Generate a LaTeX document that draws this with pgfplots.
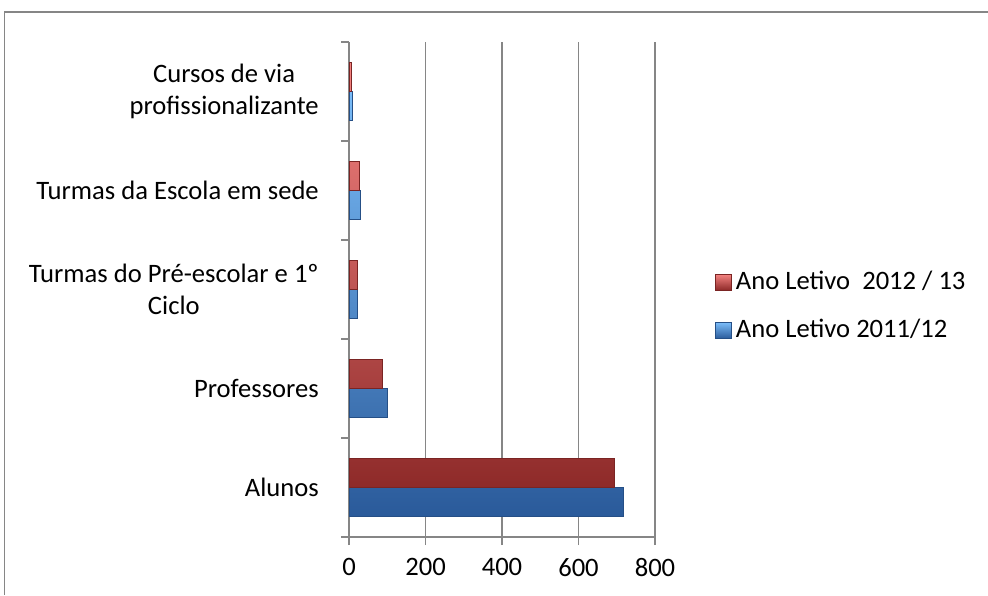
\documentclass[border=0pt]{standalone}
\usepackage{fontspec}
\setmainfont{Carlito}
\usepackage{pgfplots}
\pgfplotsset{compat=1.18}
\definecolor{axgray}{HTML}{868686}
\definecolor{rtop}{HTML}{F58482}
\definecolor{rmid}{HTML}{C93B3A}
\definecolor{rbot}{HTML}{8E2A29}
\definecolor{rdraw}{HTML}{7A2423}
\definecolor{btop}{HTML}{7ABCF8}
\definecolor{bmid}{HTML}{3A80D2}
\definecolor{bbot}{HTML}{2A5A9A}
\definecolor{bdraw}{HTML}{254F86}
\begin{document}
\fontsize{13.3}{16}\selectfont
\begin{tikzpicture}
\useasboundingbox (0pt,0pt) rectangle (494pt,297.5pt);
\draw[axgray, line width=0.75pt] (2.25pt,0pt) -- (2.25pt,291.5pt) -- (494pt,291.5pt);
\begin{axis}[
 at={(174.5pt,29pt)}, anchor=south west,
 scale only axis, width=153pt, height=247.5pt,
 xbar, xmin=0, xmax=800, ymin=-0.5, ymax=4.5,
 axis lines*=left,
 axis line style={axgray, line width=0.75pt},
 xtick={0,200,400,600,800},
 ytick={0,1,2,3,4},
 yticklabels={Alunos, Professores, {Turmas do Pré-escolar e 1º\\Ciclo}, Turmas da Escola em sede, {Cursos de via\\profissionalizante}},
 yticklabel style={align=center, font=\fontsize{13.3}{16}\selectfont, xshift=-6.5pt},
 xticklabel style={font=\fontsize{13.3}{16}\selectfont, yshift=-2pt},
 minor ytick={-0.5,0.5,1.5,2.5,3.5,4.5},
 major y tick style={draw=none},
 tick align=outside,
 major tick length=4pt, minor tick length=4pt,
 tick style={axgray, line width=0.75pt},
 xmajorgrids, grid style={axgray, line width=0.75pt},
 /pgf/number format/assume math mode=true,
 legend style={draw=none, fill=none, at={(1.196,0.466)}, anchor=west, font=\fontsize{13.3}{16}\selectfont, row sep=9pt, inner sep=0pt},
 legend cell align=left,
 reverse legend,
 legend image code/.code={\draw[#1, line width=0.3pt] (0pt,-4pt) rectangle (8pt,4pt);},
]
\addplot[xbar, bar width=14.5pt, bar shift=-7.25pt, draw=bdraw, line width=0.4pt, top color=btop, middle color=bmid, bottom color=bbot]
 coordinates {(718,0) (101,1) (22,2) (30,3) (9,4)};
\addlegendentry{Ano Letivo 2011/12}
\addplot[xbar, bar width=14.5pt, bar shift=7.25pt, draw=rdraw, line width=0.4pt, top color=rtop, middle color=rmid, bottom color=rbot]
 coordinates {(693,0) (87,1) (21,2) (26,3) (7,4)};
\addlegendentry{Ano Letivo\ \ 2012 / 13}
\end{axis}
\end{tikzpicture}
\end{document}
